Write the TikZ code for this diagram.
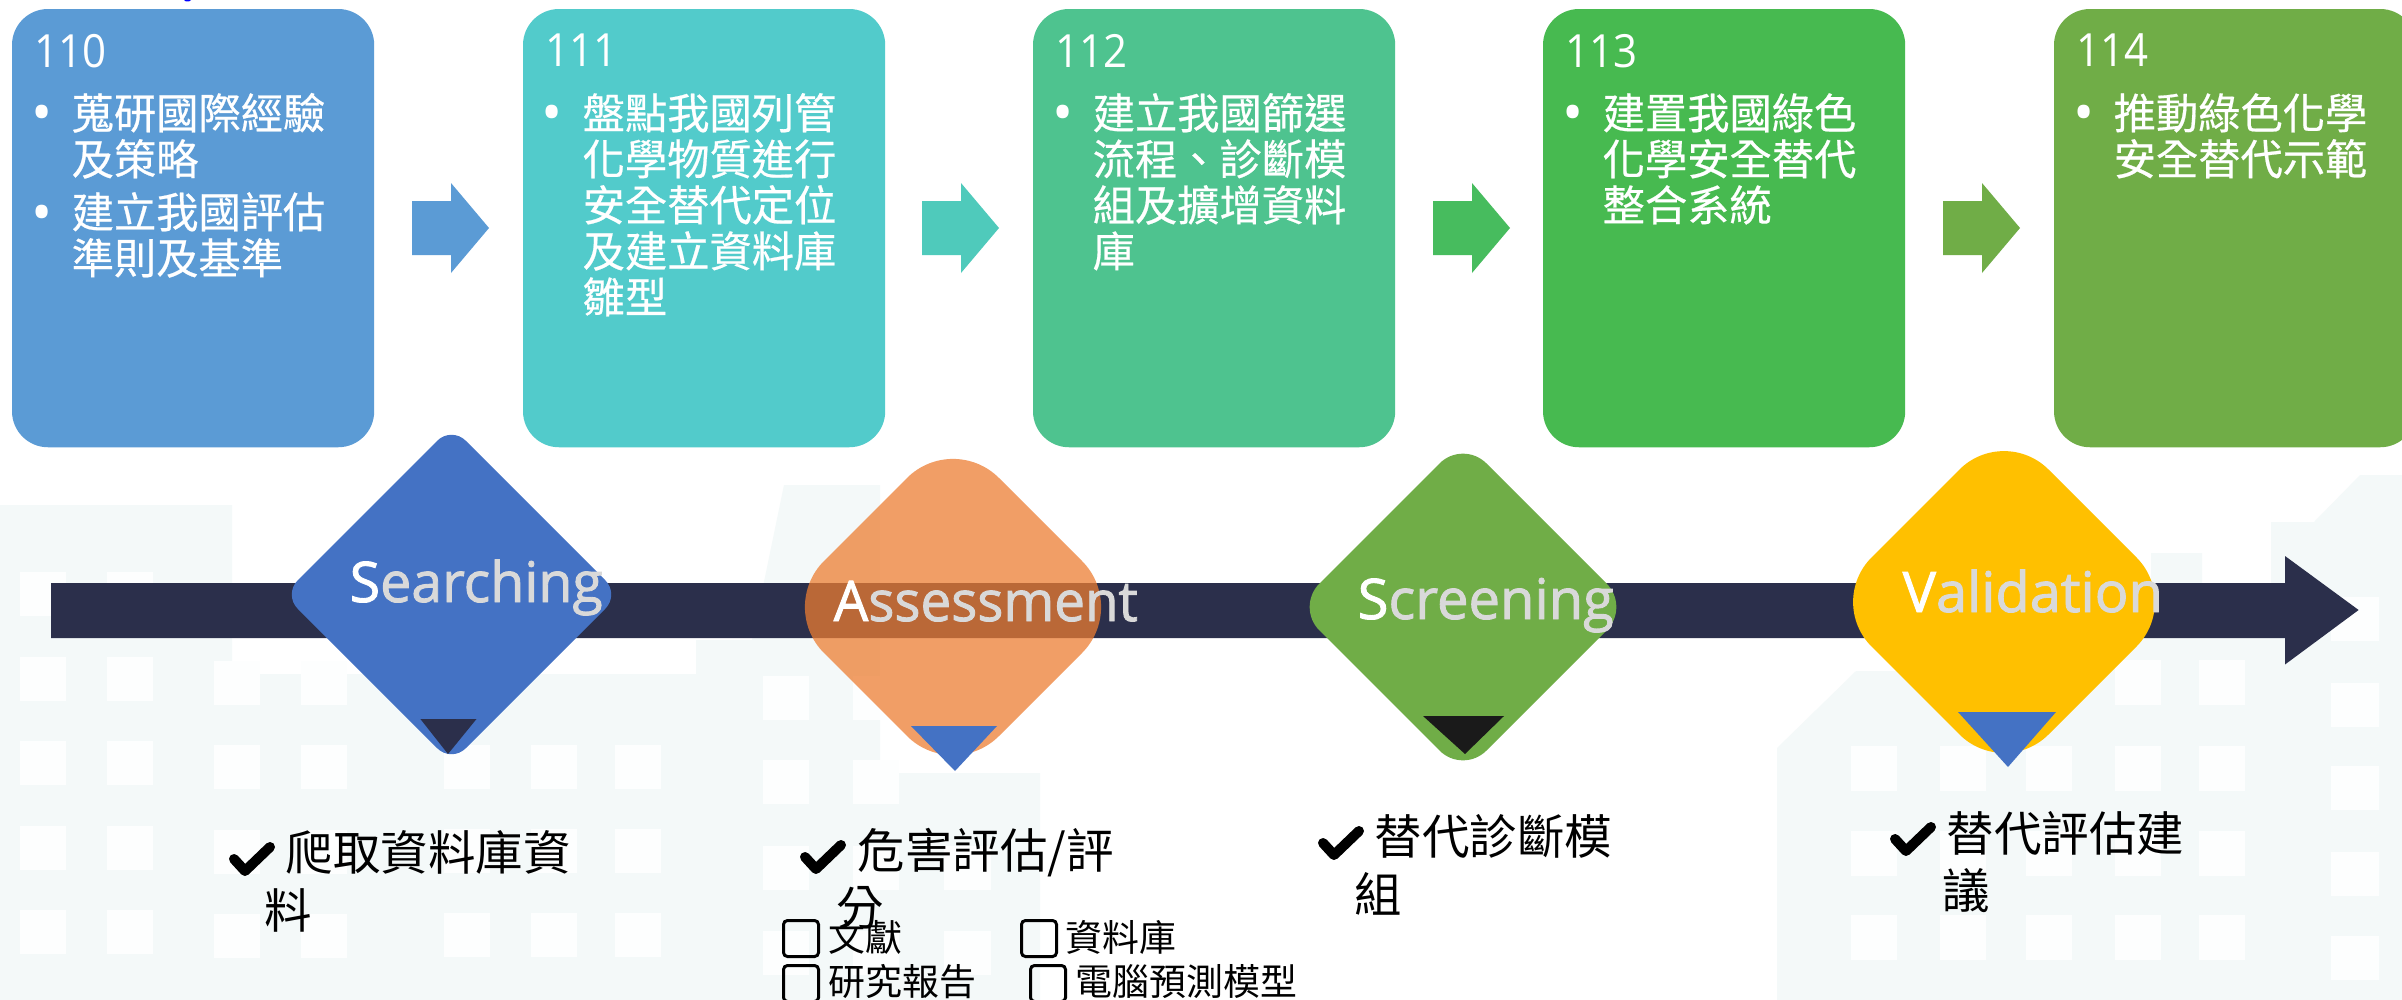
\documentclass[tikz,border=0pt]{standalone}
\usepackage{fontspec}
\usepackage{graphicx}
\setmainfont{Open Sans}
\newfontfamily\cjk{Noto Sans CJK TC}
\newfontfamily\cjkb[FakeBold=0.5]{Noto Sans CJK TC}
\newfontfamily\latn{Open Sans}
\newfontfamily\latnb[FakeBold=1.6]{Open Sans}
\definecolor{cityBg}{HTML}{F4F9F9}
\definecolor{winWhite}{HTML}{FDFEFE}
\definecolor{navy}{HTML}{2B2F4B}
\definecolor{boxA}{HTML}{5B9BD5}
\definecolor{boxB}{HTML}{52CBCB}
\definecolor{boxC}{HTML}{4EC38F}
\definecolor{boxD}{HTML}{47BA50}
\definecolor{boxE}{HTML}{70AD47}
\definecolor{arrB}{HTML}{4FCABB}
\definecolor{arrC}{HTML}{47BC5E}
\definecolor{dBlue}{HTML}{4472C4}
\definecolor{dOrange}{HTML}{ED7D31}
\definecolor{dAmber}{HTML}{FFC000}
\definecolor{dInk}{HTML}{1A1A1A}
\definecolor{grayText}{HTML}{D9D9D9}
\newcommand\firstline{\rule{0pt}{12pt}}
\newcommand\yr[1]{\resizebox{0.72cm}{\height}{#1}}
\newcommand\rdia[5]{\fill[#5,rounded corners=#4*0.01cm] (#1,#2-#3) -- (#1+#3,#2) -- (#1,#2+#3) -- (#1-#3,#2) -- cycle;}
\newcommand\blockarr[2]{\fill[#2] (#1,201) -- (#1+39,201) -- (#1+39,183) -- (#1+77,228) -- (#1+39,273) -- (#1+39,255) -- (#1,255) -- cycle;}
\tikzset{
  x=0.01cm,y=-0.01cm,
  yearbox/.style={anchor=north west,inner sep=0,outer sep=0,minimum width=3.62cm,minimum height=4.38cm,rounded corners=0.36cm},
  yeartext/.style={anchor=base west,inner sep=0,text=white,font=\latn\fontsize{13}{15}\selectfont},
  bodytext/.style={anchor=north west,inner sep=0,align=left,text=white,font=\cjkb\fontsize{12.02}{13.09}\selectfont},
  dot/.style={anchor=base,inner sep=0,text=white,font=\latn\fontsize{16}{18}\selectfont},
  phase/.style={anchor=base west,inner sep=0,text=grayText,font=\latnb\fontsize{15.9}{18}\selectfont},
  tick/.style={anchor=base west,inner sep=0,text=black,font=\cjk\fontsize{13.5}{16}\selectfont},
  small/.style={anchor=base west,inner sep=0,text=black,font=\cjk\fontsize{10.5}{12}\selectfont},
  cbox/.style={anchor=north west,draw=black,line width=0.03cm,rounded corners=0.04cm,inner sep=0,minimum width=0.35cm,minimum height=0.36cm},
  win/.style={fill=winWhite},
  pics/chk/.style={code={\draw[black,line width=0.1cm,line cap=round,line join=round] (6,16) -- (17,28) -- (42,4);}}
}
\begin{document}
\begin{tikzpicture}
\useasboundingbox (0,0) rectangle (2402,1000);
\clip (0,0) rectangle (2402,1000);
\fill[white] (0,0) rectangle (2402,1000);
% city background
\fill[cityBg] (0,505) -- (232,505) -- (232,674) -- (696,674) -- (696,640) -- (752,640) -- (784,485) -- (880,485) -- (880,773) -- (1040,773) -- (1040,1000) -- (0,1000) -- cycle;
\fill[cityBg] (1777,1000) -- (1777,748) -- (1856,671) -- (2080,671) -- (2151,620) -- (2151,553) -- (2202,553) -- (2202,590) -- (2271,590) -- (2271,522) -- (2314,522) -- (2360,475) -- (2402,475) -- (2402,1000) -- cycle;
% windows
\foreach \wx in {20,107}{\foreach \wy in {572,657,741,826,910}{\fill[win] (\wx,\wy) rectangle +(46,44);}}
\foreach \wx in {214,301}{\foreach \wy in {661,745,830,914}{\fill[win] (\wx,\wy) rectangle +(46,44);}}
\foreach \wx in {444,531,615}{\foreach \wy in {745,829,913}{\fill[win] (\wx,\wy) rectangle +(46,44);}}
\foreach \wx in {763,853}{\foreach \wy in {676,760,846,931}{\fill[win] (\wx,\wy) rectangle +(46,44);}}
\foreach \wy in {846,931}{\fill[win] (944,\wy) rectangle +(47,44);}
\foreach \wx in {1851,1940,2026,2115,2199}{\foreach \wy in {746,831,915}{\fill[win] (\wx,\wy) rectangle +(46,45);}}
\foreach \wx in {2115,2199}{\fill[win] (\wx,660) rectangle +(46,45);}
\foreach \wy in {597,683,766,852,936}{\fill[win] (2331,\wy) rectangle +(48,44);}
% fragment at the top edge
\fill[blue] (184,0) -- (191,0) -- (189,1.5) -- (186,1.5) -- cycle;
% year boxes
\node[yearbox,fill=boxA] (b110) at (12,9) {};
\node[yearbox,fill=boxB] (b111) at (523,9) {};
\node[yearbox,fill=boxC] (b112) at (1033,9) {};
\node[yearbox,fill=boxD] (b113) at (1543,9) {};
\node[yearbox,fill=boxE] (b114) at (2054,9) {};
\node[yeartext] (y110) at (33.5,67) {\yr{110}};
\node[yeartext] (y111) at (544.5,67) {\yr{111}};
\node[yeartext] (y112) at (1054.5,67) {\yr{112}};
\node[yeartext] (y113) at (1564.5,67) {\yr{113}};
\node[yeartext] (y114) at (2075.5,67) {\yr{114}};
\node[dot] (d1) at (42,133) {•};
\node[dot] (d2) at (42,232) {•};
\node[dot] (d3) at (552,133) {•};
\node[dot] (d4) at (1063,133) {•};
\node[dot] (d5) at (1573,133) {•};
\node[dot] (d6) at (2084,133) {•};
\node[bodytext] (t1a) at (71,86) {\firstline 蒐研國際經驗\\及策略};
\node[bodytext] (t1b) at (71,185) {\firstline 建立我國評估\\準則及基準};
\node[bodytext] (t2) at (582,86) {\firstline 盤點我國列管\\化學物質進行\\安全替代定位\\及建立資料庫\\雛型};
\node[bodytext] (t3) at (1092,86) {\firstline 建立我國篩選\\流程、診斷模\\組及擴增資料\\庫};
\node[bodytext] (t4) at (1602,86) {\firstline 建置我國綠色\\化學安全替代\\整合系統};
\node[bodytext] (t5) at (2113,86) {\firstline 推動綠色化學\\安全替代示範};
% block arrows
\blockarr{412}{boxA}
\blockarr{922}{arrB}
\blockarr{1433}{arrC}
\blockarr{1943}{boxE}
% timeline
\fill[navy] (51,583) -- (2285,583) -- (2285,556) -- (2358.6,610) -- (2285,664.5) -- (2285,638) -- (51,638) -- cycle;
% diamonds
\rdia{451.5}{594.5}{168}{20}{dBlue}
\rdia{953}{607}{175}{65}{dOrange,opacity=0.74}
\rdia{1463}{607}{167}{33}{boxE}
\rdia{2004}{602}{177}{63}{dAmber}
% pointers
\fill[navy] (420.4,719) -- (476.5,719) -- (448,754) -- cycle;
\fill[dBlue] (911,726) -- (997,726) -- (955,771) -- cycle;
\fill[dInk] (1423,716) -- (1504,716) -- (1465,754) -- cycle;
\fill[dBlue] (1958,712) -- (2056,712) -- (2008,767) -- cycle;
% phase labels
\node[phase] (p1) at (349,602) {\resizebox{2.53cm}{\height}{{\color{white}S}earching}};
\node[phase] (p2) at (833,621) {\resizebox{3.04cm}{\height}{{\color{white}A}ssessment}};
\node[phase] (p3) at (1357,619) {\resizebox{2.56cm}{\height}{{\color{white}S}creening}};
\node[phase] (p4) at (1902,612) {\resizebox{2.60cm}{\height}{{\color{white}V}alidation}};
% ticks
\pic at (228,843) {chk};
\pic at (799,841) {chk};
\pic at (1317,827) {chk};
\pic at (1889,823) {chk};
\node[tick] (k1) at (285,870) {爬取資料庫資};
\node[tick] (k1b) at (264,928) {料};
\node[tick] (k2) at (857,868) {危害評估/評};
\node[tick] (k2b) at (836,925) {分};
\node[tick] (k3) at (1374,854) {替代診斷模};
\node[tick] (k3b) at (1354,912) {組};
\node[tick] (k4) at (1946,851) {替代評估建};
\node[tick] (k4b) at (1942,908) {議};
% check boxes
\node[cbox] (c1) at (782,919) {};
\node[cbox] (c2) at (1020,919) {};
\node[cbox] (c3) at (782,964) {};
\node[cbox] (c4) at (1029,964) {};
\node[small] (s1) at (828,951) {文獻};
\node[small] (s2) at (1065,951) {資料庫};
\node[small] (s3) at (828,995) {研究報告};
\node[small] (s4) at (1075,995) {電腦預測模型};
\end{tikzpicture}
\end{document}
